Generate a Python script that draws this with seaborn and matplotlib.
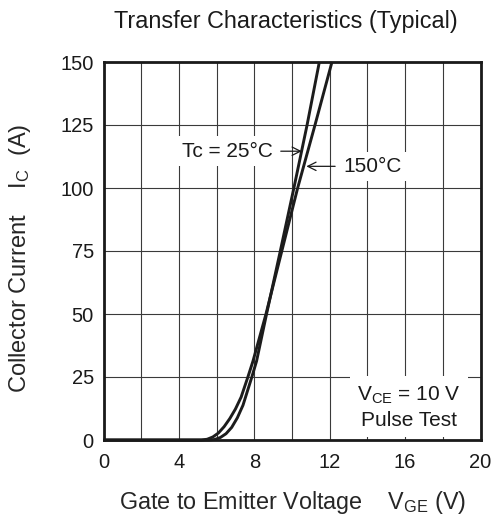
import matplotlib
matplotlib.use("Agg")
import matplotlib.pyplot as plt
import pandas as pd
import seaborn as sns

# Transfer characteristics, collector current vs gate-emitter voltage
vge_25 = [0.0, 5.6, 5.9, 6.2, 6.5, 6.8, 7.1, 7.4, 7.87, 8.12, 8.65, 9.38, 10.1, 10.8, 11.45]
ic_25 = [0.0, 0.0, 0.2, 1.0, 2.5, 5.0, 8.8, 13.8, 25.0, 31.3, 50.0, 75.0, 100.0, 125.0, 150.0]
vge_150 = [0.0, 5.2, 5.5, 5.8, 6.1, 6.4, 6.7, 7.0, 7.3, 7.66, 7.93, 8.62, 9.46, 10.3, 11.22, 12.12]
ic_150 = [0.0, 0.0, 0.3, 1.2, 2.8, 5.3, 8.5, 12.3, 17.0, 25.0, 31.3, 50.0, 75.0, 100.0, 125.0, 150.0]
temps = ["25°C", "150°C"]
x_ticks = [0, 4, 8, 12, 16, 20]
x_minor = [2, 6, 10, 14, 18]
y_ticks = [0, 25, 50, 75, 100, 125, 150]

sns.set_style("white")
plt.rcParams["font.family"] = ["Liberation Sans", "DejaVu Sans"]
plt.rcParams["mathtext.fontset"] = "custom"
plt.rcParams["mathtext.rm"] = "Liberation Sans"
plt.rcParams["mathtext.it"] = "Liberation Sans:italic"
plt.rcParams["text.color"] = "#1a1a1a"

df = pd.concat([
    pd.DataFrame({"VGE": vge_25, "IC": ic_25, "Tc": temps[0]}),
    pd.DataFrame({"VGE": vge_150, "IC": ic_150, "Tc": temps[1]}),
], ignore_index=True)

W, H = 492, 527
L, R, T, B = 103.5, 480.5, 62.0, 440.0
fig = plt.figure(figsize=(W / 100, H / 100), dpi=100)
ax = fig.add_axes([L / W, 1 - B / H, (R - L) / W, (B - T) / H])

sns.lineplot(data=df, x="VGE", y="IC", hue="Tc", palette=["#1c1c1c", "#1c1c1c"],
             linewidth=2.1, legend=False, sort=False, estimator=None, ax=ax)
for line in ax.lines:
    line.set_clip_on(False)
    line.set_solid_capstyle("butt")
    line.set_zorder(3)

ax.set_xlim(0, 20)
ax.set_ylim(0, 150)
ax.set_xticks(x_ticks)
ax.set_xticks(x_minor, minor=True)
ax.set_yticks(y_ticks)
ax.tick_params(which="both", length=0, labelsize=14.5, colors="#1a1a1a")
ax.tick_params(axis="x", pad=9)
ax.tick_params(axis="y", pad=7)

ax.grid(True, which="both", axis="x", color="#3a3a3a", linewidth=0.8)
ax.grid(True, which="major", axis="y", color="#3a3a3a", linewidth=0.8)
for s in ax.spines.values():
    s.set_linewidth(2.0)
    s.set_color("#1a1a1a")
    s.set_zorder(4)

ax.text((286 - L) / (R - L), (B - 21) / (B - T), "Transfer Characteristics (Typical)",
        fontsize=16.8, ha="center", va="center", transform=ax.transAxes)

ax.set_xlabel(r"Gate to Emitter Voltage    $\mathregular{V_{GE}}$ (V)", fontsize=16.8)
ax.xaxis.set_label_coords((292.5 - L) / (R - L), (B - 503) / (B - T))
ax.xaxis.label.set_va("center")
ax.set_ylabel(r"Collector Current    $\mathregular{I_C}$  (A)", fontsize=17)
ax.yaxis.set_label_coords((20 - L) / (R - L), (B - 258) / (B - T))
ax.yaxis.label.set_va("center")

box = dict(boxstyle="square,pad=0.25", fc="white", ec="none")
arrow = dict(arrowstyle="->", lw=0.9, color="#1a1a1a", shrinkA=2, shrinkB=0)
ax.annotate("Tc = 25°C", xy=(10.52, 114.6), xytext=(6.57, 114.6), fontsize=15,
            ha="center", va="center", bbox=box, arrowprops=arrow, zorder=2)
ax.annotate("150°C", xy=(10.76, 108.6), xytext=(14.26, 108.6), fontsize=15,
            ha="center", va="center", bbox=box, arrowprops=arrow, zorder=2)
ax.text(16.2, 13.0, "$\\mathregular{V_{CE}}$ = 10 V\nPulse Test", fontsize=15,
        ha="center", va="center", multialignment="center", linespacing=1.3,
        bbox=dict(boxstyle="square,pad=0.35", fc="white", ec="none"), zorder=2)

fig.savefig("out.png", dpi=100)
